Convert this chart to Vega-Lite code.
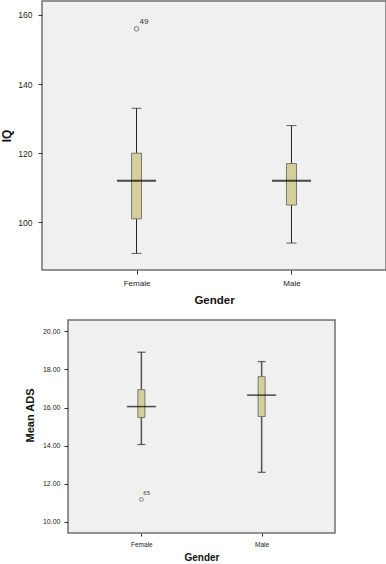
{
  "$schema": "https://vega.github.io/schema/vega-lite/v6.json",
  "padding": 0,
  "config": {
    "font": "Liberation Sans",
    "view": {"fill": "#f0f0f0", "stroke": "#707070", "strokeWidth": 1.5},
    "axis": {"grid": false, "domain": false, "tickColor": "#333", "labelColor": "#222", "titleColor": "#111", "titleFontWeight": "bold"}
  },
  "bounds": "flush",
  "spacing": 50,
  "vconcat": [
    {
      "width": 344,
      "height": 269,
      "layer": [
        {
          "data": {"values": [
            {"gender": "Female", "lo": 91, "q1": 101, "med": 112, "q3": 120, "hi": 133},
            {"gender": "Male", "lo": 94, "q1": 105, "med": 112, "q3": 117, "hi": 128}
          ]},
          "layer": [
            {"mark": {"type": "rule", "color": "#222", "strokeWidth": 1}, "encoding": {"y": {"field": "lo"}, "y2": {"field": "hi"}}},
            {"mark": {"type": "tick", "color": "#222", "thickness": 1, "size": 10}, "encoding": {"y": {"field": "lo"}}},
            {"mark": {"type": "tick", "color": "#222", "thickness": 1, "size": 10}, "encoding": {"y": {"field": "hi"}}},
            {"mark": {"type": "bar", "fill": "#d4cf98", "stroke": "#777", "strokeWidth": 1, "size": 10}, "encoding": {"y": {"field": "q1"}, "y2": {"field": "q3"}}},
            {"mark": {"type": "tick", "color": "#000", "thickness": 2, "size": 39}, "encoding": {"y": {"field": "med"}}}
          ]
        },
        {
          "data": {"values": [{"gender": "Female", "value": 156, "id": "49"}]},
          "layer": [
            {"mark": {"type": "point", "shape": "circle", "filled": false, "size": 20, "stroke": "#444", "strokeWidth": 1}, "encoding": {"y": {"field": "value"}}},
            {"mark": {"type": "text", "align": "left", "dx": 3, "dy": -7, "fontSize": 8, "color": "#333"}, "encoding": {"y": {"field": "value"}, "text": {"field": "id"}}}
          ]
        }
      ],
      "encoding": {
        "x": {"field": "gender", "type": "nominal", "scale": {"type": "point", "padding": 0.61},
              "axis": {"title": "Gender", "labelAngle": 0, "labelFontSize": 8, "tickSize": 4, "labelPadding": 5, "titleFontSize": 11.5, "titlePadding": 7}},
        "y": {"type": "quantitative", "scale": {"domain": [86.2, 164.05], "nice": false, "zero": false},
              "axis": {"title": "IQ", "values": [100, 120, 140, 160], "labelFontSize": 8.5, "tickSize": 4, "labelPadding": 6, "titleFontSize": 12, "titlePadding": 4}}
      }
    },
    {
      "spacing": 0,
      "bounds": "flush",
      "hconcat": [
        {
          "width": 26,
          "height": 1,
          "data": {"values": [{}]},
          "mark": {"type": "rule", "opacity": 0},
          "encoding": {},
          "view": {"stroke": null, "fill": null}
        },
        {
          "width": 267,
          "height": 213,
          "layer": [
            {
              "data": {"values": [
                {"gender": "Female", "lo": 14.06, "q1": 15.48, "med": 16.05, "q3": 16.94, "hi": 18.9},
                {"gender": "Male", "lo": 12.6, "q1": 15.53, "med": 16.65, "q3": 17.62, "hi": 18.41}
              ]},
              "layer": [
                {"mark": {"type": "rule", "color": "#555", "strokeWidth": 1.5}, "encoding": {"y": {"field": "lo"}, "y2": {"field": "hi"}}},
                {"mark": {"type": "tick", "color": "#333", "thickness": 1.3, "size": 8}, "encoding": {"y": {"field": "lo"}}},
                {"mark": {"type": "tick", "color": "#333", "thickness": 1.3, "size": 8}, "encoding": {"y": {"field": "hi"}}},
                {"mark": {"type": "bar", "fill": "#d4cf98", "stroke": "#777", "strokeWidth": 1, "size": 7}, "encoding": {"y": {"field": "q1"}, "y2": {"field": "q3"}}},
                {"mark": {"type": "tick", "color": "#000", "thickness": 1.5, "size": 29}, "encoding": {"y": {"field": "med"}}}
              ]
            },
            {
              "data": {"values": [{"gender": "Female", "value": 11.18, "id": "65"}]},
              "layer": [
                {"mark": {"type": "point", "shape": "circle", "filled": false, "size": 14, "stroke": "#555", "strokeWidth": 1}, "encoding": {"y": {"field": "value"}}},
                {"mark": {"type": "text", "align": "left", "dx": 2, "dy": -6, "fontSize": 6, "color": "#444"}, "encoding": {"y": {"field": "value"}, "text": {"field": "id"}}}
              ]
            }
          ],
          "encoding": {
            "x": {"field": "gender", "type": "nominal", "scale": {"type": "point", "padding": 0.61},
                  "axis": {"title": "Gender", "labelAngle": 0, "labelFontSize": 6.5, "tickSize": 3, "labelPadding": 5, "titleFontSize": 10, "titlePadding": 5}},
            "y": {"type": "quantitative", "scale": {"domain": [9.42, 20.59], "nice": false, "zero": false},
                  "axis": {"title": "Mean ADS", "values": [10, 12, 14, 16, 18, 20], "format": ".2f", "labelFontSize": 7, "tickSize": 4, "labelPadding": 4, "titleFontSize": 11, "titlePadding": 7, "titleY": 95}}
          }
        }
      ]
    }
  ]
}
